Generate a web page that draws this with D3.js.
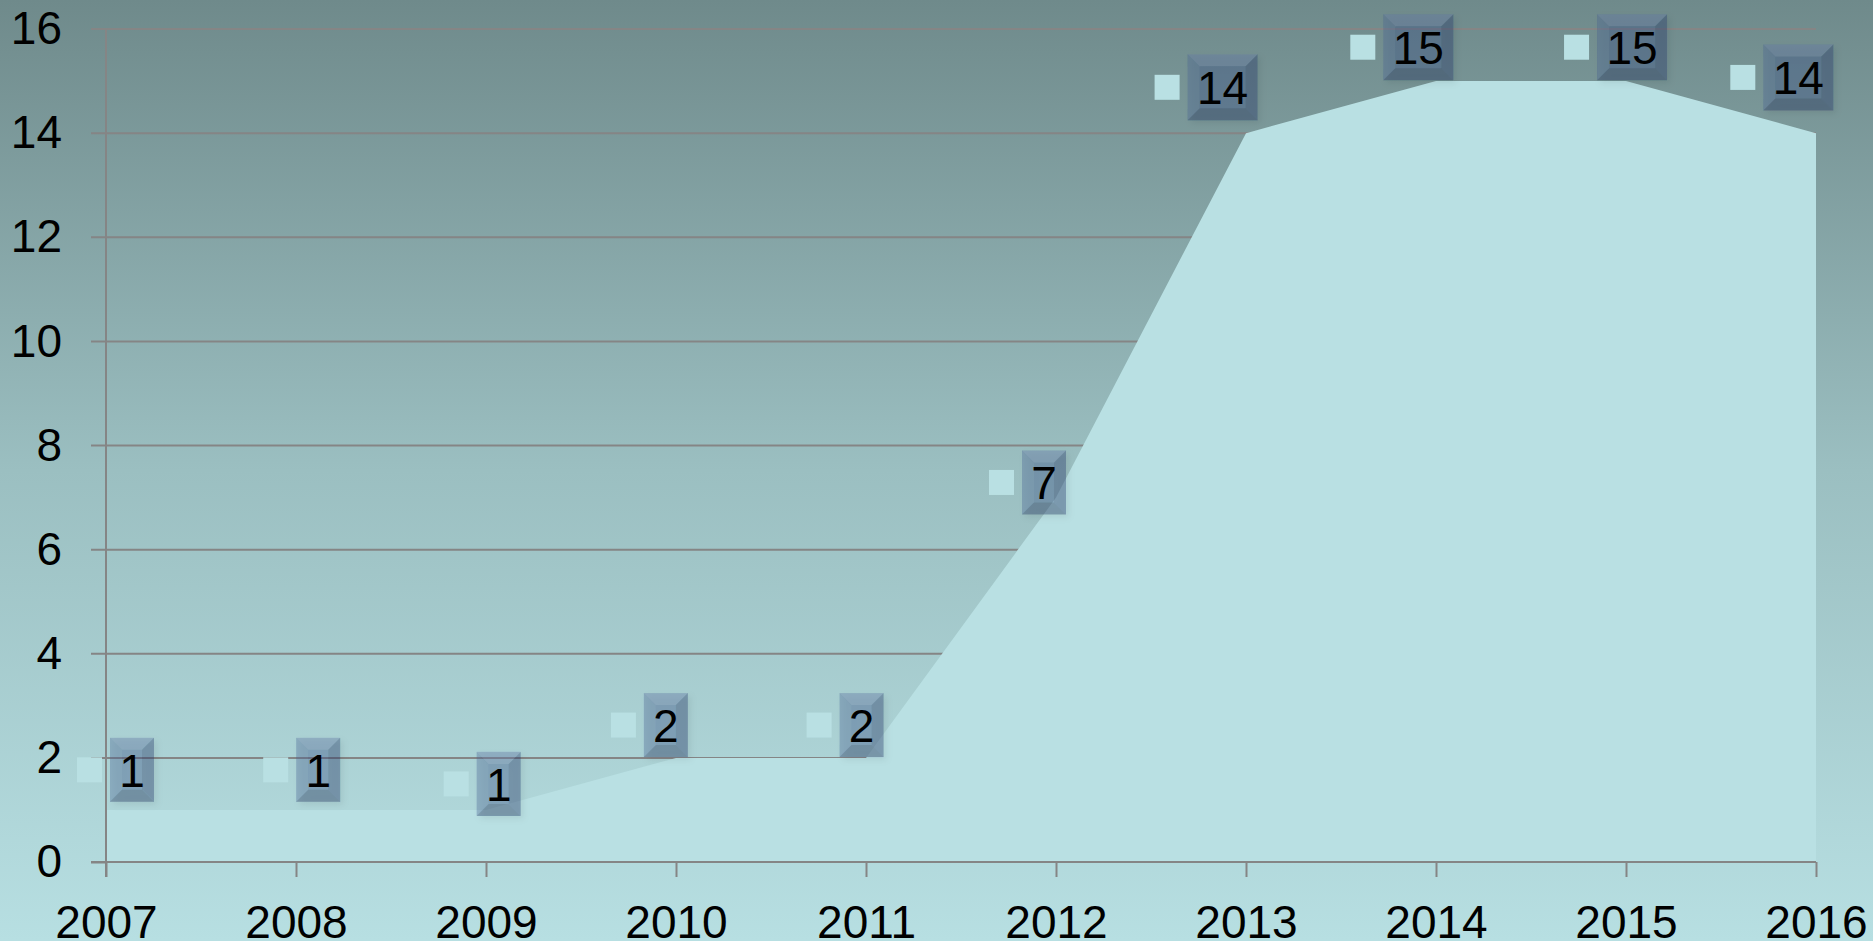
<!DOCTYPE html>
<html>
<head>
<meta charset="utf-8">
<script src="https://cdn.jsdelivr.net/npm/d3@7"></script>
<style>
  html, body { margin: 0; padding: 0; overflow: hidden; }
  svg { display: block; }
  text { font-family: "Liberation Sans", Arial, sans-serif; }
</style>
</head>
<body>
<svg id="chart" width="1873" height="941"></svg>
<script>
// ---- data ----
const years = [2007, 2008, 2009, 2010, 2011, 2012, 2013, 2014, 2015, 2016];
const values = [1, 1, 1, 2, 2, 7, 14, 15, 15, 14];
const yTicks = [0, 2, 4, 6, 8, 10, 12, 14, 16];
// manual data-label nudges (in data units: years, value units)
const labelDx = [0.05, 0.03, -0.02, -0.14, -0.11, -0.15, -0.21, -0.18, -0.055, -0.18];
const labelDy = [0.77, 0.77, 0.5, 0.63, 0.63, 0.29, 0.88, 0.65, 0.65, 1.07];

const W = 1873, H = 941;
const svg = d3.select("#chart");
const defs = svg.append("defs");

const bg = defs.append("linearGradient").attr("id", "bg")
  .attr("x1", 0).attr("y1", 0).attr("x2", 0).attr("y2", 1);
bg.append("stop").attr("offset", "0%").attr("stop-color", "#6f8a8b");
bg.append("stop").attr("offset", "50%").attr("stop-color", "#9bbfc1");
bg.append("stop").attr("offset", "100%").attr("stop-color", "#b7dfe2");

const sh = defs.append("filter").attr("id", "shadow")
  .attr("x", "-30%").attr("y", "-30%").attr("width", "160%").attr("height", "160%");
sh.append("feDropShadow").attr("dx", 3).attr("dy", 3).attr("stdDeviation", 3)
  .attr("flood-color", "#000").attr("flood-opacity", 0.18);

svg.append("rect").attr("width", W).attr("height", H).attr("fill", "url(#bg)");

const x = d3.scaleLinear().domain([2007, 2016]).range([106, 1816]);
const y = d3.scaleLinear().domain([0, 16]).range([862, 29]);

const gridColor = "#858585";

// gridlines
svg.append("g").selectAll("line").data(yTicks.filter(d => d > 0)).join("line")
  .attr("x1", x(2007) - 15).attr("x2", x(2016))
  .attr("y1", d => y(d)).attr("y2", d => y(d))
  .attr("stroke", gridColor).attr("stroke-width", 2);

// area
const area = d3.area()
  .x((d, i) => x(years[i]))
  .y0(y(0))
  .y1(d => y(d));
svg.append("path").datum(values).attr("d", area).attr("fill", "#b9e0e3");

// data labels
const lg = svg.append("g");
values.forEach((v, i) => {
  const txt = String(v);
  const bw = 26 * txt.length + 18, bh = txt.length > 1 ? 66 : 64, ks = 25, gap = 8;
  const total = ks + gap + bw;
  const cx = x(years[i] + labelDx[i]);
  const cy = y(v + labelDy[i]);
  const left = cx - total / 2;
  const g = lg.append("g");
  g.append("rect").attr("x", left).attr("y", cy - ks / 2).attr("width", ks).attr("height", ks)
    .attr("fill", "#b9e0e3");
  const bx = left + ks + gap, by = cy - bh / 2, b = 12;
  const box = g.append("g").attr("filter", "url(#shadow)");
  box.append("rect").attr("x", bx).attr("y", by).attr("width", bw).attr("height", bh)
    .attr("fill", "rgb(50,75,135)").attr("fill-opacity", 0.33);
  // bevel facets
  const facet = (pts, col, op) => box.append("polygon")
    .attr("points", pts.map(p => p.join(",")).join(" "))
    .attr("fill", col).attr("fill-opacity", op);
  facet([[bx, by], [bx + bw, by], [bx + bw - b, by + b], [bx + b, by + b]], "#ffffff", 0.10);
  facet([[bx, by], [bx + b, by + b], [bx + b, by + bh - b], [bx, by + bh]], "#ffffff", 0.04);
  facet([[bx + bw, by], [bx + bw, by + bh], [bx + bw - b, by + bh - b], [bx + bw - b, by + b]], "#000000", 0.07);
  facet([[bx, by + bh], [bx + b, by + bh - b], [bx + bw - b, by + bh - b], [bx + bw, by + bh]], "#000000", 0.10);
  g.append("text").attr("x", bx + bw / 2).attr("y", cy + 17)
    .attr("text-anchor", "middle").attr("font-size", 46).attr("fill", "#000").text(txt);
});

// axes
const yAxis = d3.axisLeft(y).tickValues(yTicks).tickSize(15).tickPadding(29).tickFormat(d3.format("d"));
const gy = svg.append("g").attr("transform", `translate(${x(2007)},0)`).call(yAxis);
const xAxis = d3.axisBottom(x).tickValues(years).tickSize(15).tickPadding(28).tickFormat(d3.format("d"));
const gx = svg.append("g").attr("transform", `translate(0,${y(0)})`).call(xAxis);
[gx, gy].forEach(g => {
  g.select(".domain").remove();
  g.selectAll(".tick line").attr("stroke", gridColor).attr("stroke-width", 2);
  g.selectAll(".tick text").attr("font-size", 46).attr("fill", "#000")
    .attr("font-family", "'Liberation Sans', Arial, sans-serif");
});
gy.selectAll(".tick").filter(d => d !== 0).select("line").remove();
// axis lines
svg.append("line").attr("x1", x(2007)).attr("x2", x(2007)).attr("y1", y(16)).attr("y2", y(0) + 15)
  .attr("stroke", gridColor).attr("stroke-width", 2);
svg.append("line").attr("x1", x(2007) - 15).attr("x2", x(2016)).attr("y1", y(0)).attr("y2", y(0))
  .attr("stroke", gridColor).attr("stroke-width", 2);
</script>
</body>
</html>
